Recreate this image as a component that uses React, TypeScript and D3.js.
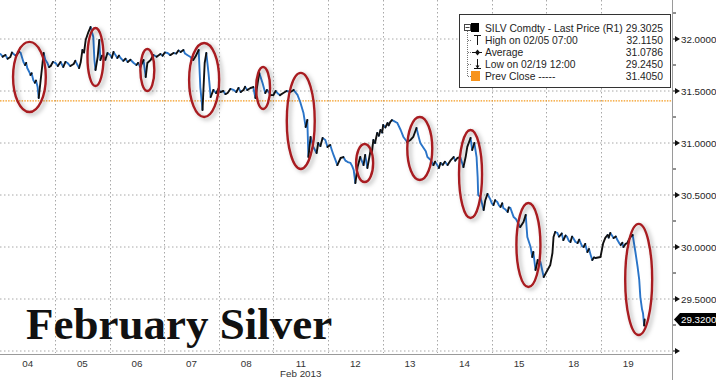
import React from 'react';
import * as d3 from 'd3';

const W = 716;
const H = 380;

const dayLabels = ["04", "05", "06", "07", "08", "11", "12", "13", "14", "15", "18", "19"];
const monthLabel = "Feb 2013";
const yMajorTicks = [29.0, 29.5, 30.0, 30.5, 31.0, 31.5, 32.0];
const yMinorTicks = [29.25, 29.75, 30.25, 30.75, 31.25, 31.75, 32.25];
const yTickLabels = ["", "29.5000", "30.0000", "30.5000", "31.0000", "31.5000", "32.0000"];

// [time in trading-day slots (0 = start of Feb 04), last price]
const pricePoints: [number, number][] = [
  [0.00, 31.856], [0.04, 31.83], [0.09, 31.846], [0.13, 31.81], [0.18, 31.827], [0.21, 31.87], [0.24, 31.856], [0.28, 31.84],
  [0.31, 31.856], [0.34, 31.88], [0.37, 31.865], [0.42, 31.779], [0.45, 31.75], [0.47, 31.77], [0.49, 31.721], [0.52, 31.69],
  [0.55, 31.654], [0.57, 31.67], [0.60, 31.606], [0.63, 31.58], [0.65, 31.60], [0.68, 31.538], [0.70, 31.433], [0.73, 31.577],
  [0.77, 31.769], [0.79, 31.865], [0.82, 31.80], [0.86, 31.769], [0.89, 31.73], [0.92, 31.740], [0.96, 31.78],
  [1.01, 31.769], [1.05, 31.74], [1.10, 31.779], [1.15, 31.731], [1.19, 31.78], [1.23, 31.769], [1.28, 31.74], [1.34, 31.760],
  [1.37, 31.79], [1.41, 31.750], [1.44, 31.72], [1.47, 31.779], [1.50, 31.894], [1.53, 31.87], [1.56, 31.990], [1.61, 32.067],
  [1.65, 32.115], [1.70, 32.019], [1.72, 31.798], [1.74, 31.702], [1.78, 31.827], [1.81, 31.990], [1.83, 31.798], [1.86, 31.84],
  [1.89, 31.827], [1.92, 31.80], [1.96, 31.865],
  [2.01, 31.846], [2.04, 31.82], [2.07, 31.875], [2.10, 31.85], [2.14, 31.817], [2.17, 31.84], [2.20, 31.817], [2.25, 31.79],
  [2.29, 31.81], [2.33, 31.779], [2.38, 31.80], [2.44, 31.769], [2.49, 31.75], [2.52, 31.77], [2.56, 31.731], [2.62, 31.798],
  [2.66, 31.635], [2.69, 31.769], [2.75, 31.798], [2.80, 31.846], [2.86, 31.83], [2.93, 31.856], [2.97, 31.84],
  [3.01, 31.87], [3.06, 31.865], [3.11, 31.845], [3.17, 31.865], [3.22, 31.86], [3.26, 31.89], [3.30, 31.875], [3.35, 31.894],
  [3.38, 31.86], [3.42, 31.846], [3.48, 31.827], [3.53, 31.798], [3.58, 31.84], [3.63, 31.894], [3.66, 31.538], [3.70, 31.317],
  [3.74, 31.769], [3.77, 31.865], [3.81, 31.673], [3.85, 31.442], [3.90, 31.510], [3.95, 31.48], [3.99, 31.52],
  [4.03, 31.490], [4.08, 31.50], [4.12, 31.47], [4.16, 31.481], [4.21, 31.52], [4.27, 31.510], [4.32, 31.49], [4.36, 31.53],
  [4.40, 31.490], [4.45, 31.51], [4.48, 31.54], [4.52, 31.510], [4.58, 31.529], [4.63, 31.538], [4.67, 31.433], [4.71, 31.577],
  [4.74, 31.673], [4.80, 31.577], [4.85, 31.481], [4.88, 31.51], [4.91, 31.490], [4.95, 31.46],
  [5.00, 31.462], [5.04, 31.50], [5.07, 31.481], [5.12, 31.46], [5.18, 31.481], [5.24, 31.50], [5.31, 31.490], [5.37, 31.510],
  [5.44, 31.462], [5.49, 31.394], [5.55, 31.288], [5.59, 31.154], [5.62, 31.221], [5.64, 30.865], [5.68, 31.058], [5.73, 30.962],
  [5.79, 30.904], [5.82, 31.000], [5.86, 30.97], [5.90, 31.048], [5.95, 31.029], [5.99, 30.962],
  [6.04, 30.981], [6.07, 30.93], [6.10, 30.885], [6.14, 30.83], [6.17, 30.788], [6.23, 30.856], [6.28, 30.865], [6.32, 30.83],
  [6.36, 30.817], [6.41, 30.808], [6.44, 30.78], [6.47, 30.740], [6.50, 30.615], [6.54, 30.769], [6.59, 30.865], [6.65, 30.788],
  [6.68, 30.885], [6.72, 30.760], [6.78, 30.933], [6.80, 30.90], [6.83, 31.029], [6.86, 31.00], [6.90, 31.096], [6.93, 31.07],
  [6.96, 31.125], [6.99, 31.10],
  [7.01, 31.173], [7.05, 31.15], [7.09, 31.192], [7.11, 31.17], [7.14, 31.202], [7.17, 31.22], [7.20, 31.212], [7.27, 31.192],
  [7.33, 31.125], [7.38, 31.058], [7.45, 31.010], [7.51, 31.029], [7.56, 31.058], [7.62, 31.144], [7.66, 31.058], [7.69, 31.000],
  [7.75, 30.952], [7.79, 30.92], [7.82, 30.865], [7.88, 30.837], [7.93, 30.788], [7.96, 30.82],
  [8.00, 30.788], [8.03, 30.76], [8.06, 30.808], [8.10, 30.79], [8.14, 30.82], [8.19, 30.788], [8.24, 30.83], [8.30, 30.865],
  [8.33, 30.83], [8.37, 30.856], [8.42, 30.865], [8.48, 30.769], [8.52, 30.865], [8.55, 30.962], [8.61, 31.048], [8.64, 30.933],
  [8.68, 31.000], [8.72, 30.865], [8.74, 30.673], [8.75, 30.500], [8.79, 30.481], [8.85, 30.356], [8.88, 30.45], [8.92, 30.510],
  [8.97, 30.460],
  [9.00, 30.42], [9.03, 30.404], [9.06, 30.45], [9.10, 30.433], [9.13, 30.40], [9.16, 30.385], [9.19, 30.42], [9.21, 30.375],
  [9.25, 30.36], [9.29, 30.337], [9.31, 30.38], [9.34, 30.375], [9.37, 30.33], [9.40, 30.288], [9.44, 30.27], [9.47, 30.240],
  [9.52, 30.192], [9.58, 30.240], [9.62, 30.308], [9.65, 30.096], [9.71, 30.000], [9.74, 29.904], [9.76, 29.952], [9.80, 29.779],
  [9.84, 29.875], [9.89, 29.856], [9.93, 29.760], [9.95, 29.712],
  [10.02, 29.779], [10.07, 29.827], [10.11, 29.942], [10.13, 30.096], [10.16, 30.144], [10.20, 30.135], [10.23, 30.10],
  [10.26, 30.115], [10.28, 30.13], [10.31, 30.067], [10.35, 30.11], [10.38, 30.096], [10.41, 30.06], [10.44, 30.048],
  [10.47, 30.10], [10.49, 30.087], [10.53, 30.05], [10.57, 30.038], [10.60, 30.07], [10.62, 30.048], [10.65, 30.01],
  [10.68, 30.000], [10.71, 30.03], [10.75, 29.952], [10.78, 29.98], [10.81, 29.923], [10.84, 29.875], [10.87, 29.90],
  [10.90, 29.894], [10.99, 29.904],
  [11.04, 30.038], [11.08, 30.09], [11.12, 30.115], [11.14, 30.09], [11.17, 30.135], [11.20, 30.11], [11.23, 30.087],
  [11.27, 30.10], [11.30, 30.067], [11.33, 30.04], [11.36, 30.019], [11.39, 30.04], [11.41, 30.000], [11.45, 30.03],
  [11.48, 30.038], [11.51, 30.07], [11.54, 30.096], [11.58, 30.115], [11.63, 29.952], [11.67, 29.808], [11.70, 29.683],
  [11.72, 29.519], [11.75, 29.404], [11.77, 29.360], [11.79, 29.245], [11.80, 29.303],
];

const prevClose = 31.405;
const lastPriceLabel = "29.3200";
const lastPrice = 29.3025;

const legendNames = [
  "SILV Comdty - Last Price (R1)",
  "High on 02/05 07:00",
  "Average",
  "Low on 02/19 12:00",
  "Prev Close -----",
];
const legendValues = ["29.3025", "32.1150", "31.0786", "29.2450", "31.4050"];

const titleText = "February Silver";

// highlight ellipses (center time, center price, half-width in days, half-height in price)
const ellipseT = [0.53, 1.74, 2.69, 3.73, 4.81, 5.50, 6.67, 7.68, 8.61, 9.67, 11.69];
const ellipseP = [31.635, 31.827, 31.702, 31.606, 31.529, 31.212, 30.808, 30.947, 30.702, 30.019, 29.688];
const ellipseRT = [0.30, 0.147, 0.128, 0.275, 0.128, 0.256, 0.156, 0.229, 0.211, 0.22, 0.247];
const ellipseRP = [0.337, 0.279, 0.202, 0.356, 0.202, 0.462, 0.183, 0.303, 0.423, 0.404, 0.534];

const AXIS_X = 672;
const AXIS_Y = 354;

export default function App() {
  const x = d3.scaleLinear().domain([0, 12.3]).range([0.5, AXIS_X]);
  const y = d3.scaleLinear().domain([29, 32]).range([351, 39]);

  const blueSegs: string[] = [];
  const blackSegs: string[] = [];
  for (let i = 1; i < pricePoints.length; i++) {
    const [t0, p0] = pricePoints[i - 1];
    const [t1, p1] = pricePoints[i];
    const seg = `M${x(t0).toFixed(2)},${y(p0).toFixed(2)}L${x(t1).toFixed(2)},${y(p1).toFixed(2)}`;
    if (p1 <= p0) blueSegs.push(seg);
    else blackSegs.push(seg);
  }

  const gridColor = '#a8a8a8';
  const font = "'Liberation Sans', Arial, sans-serif";
  const txt = '#1e1e1e';

  const legX = 459, legY = 14, legW = 211, legH = 73;
  const rowY = [28, 40, 52, 64, 76];

  const yLast = y(lastPrice);

  return (
    <div style={{ position: 'fixed', left: 0, top: 0 }}>
      <svg width={W} height={H} style={{ display: 'block', background: '#fff' }}>
        <defs>
          <filter id="sh" x="-60%" y="-30%" width="220%" height="160%">
            <feDropShadow dx="2.5" dy="2" stdDeviation="2" floodColor="#000" floodOpacity="0.32" />
          </filter>
        </defs>
        <rect x={0} y={0} width={W} height={H} fill="#fff" />

        {yMajorTicks.map((v) => (
          <line key={'hg' + v} x1={0} x2={AXIS_X} y1={y(v)} y2={y(v)} stroke={gridColor} strokeWidth={1} strokeDasharray="1.5,2.5" />
        ))}
        {dayLabels.slice(1).map((d, i) => (
          <line key={'vg' + d} x1={Math.round(x(i + 1)) + 0.5} x2={Math.round(x(i + 1)) + 0.5} y1={0} y2={AXIS_Y - 1} stroke={gridColor} strokeWidth={1} strokeDasharray="1.5,2.5" />
        ))}

        <line x1={0} x2={AXIS_X} y1={y(prevClose)} y2={y(prevClose)} stroke="#f39a1e" strokeWidth={1.3} strokeDasharray="1.5,1.2" />

        <text x={26} y={339} fontFamily="'Liberation Serif', 'Times New Roman', serif" fontWeight="bold" fontSize={45} fill="#111">{titleText}</text>

        <path d={blueSegs.join('')} fill="none" stroke="#2a74c8" strokeWidth={1.9} strokeLinecap="round" />
        <path d={blackSegs.join('')} fill="none" stroke="#111" strokeWidth={1.9} strokeLinecap="round" />

        {ellipseT.map((t, i) => (
          <ellipse key={'el' + i}
            cx={x(t)} cy={y(ellipseP[i])}
            rx={x(t + ellipseRT[i]) - x(t)} ry={y(ellipseP[i] - ellipseRP[i]) - y(ellipseP[i])}
            fill="none" stroke="#a81e20" strokeWidth={2.4} filter="url(#sh)" />
        ))}

        <line x1={AXIS_X + 0.5} x2={AXIS_X + 0.5} y1={0} y2={H} stroke="#9a9a9a" strokeWidth={1} />
        <line x1={0} x2={AXIS_X} y1={AXIS_Y + 0.5} y2={AXIS_Y + 0.5} stroke="#9a9a9a" strokeWidth={1} />

        {yMinorTicks.map((v) => (
          <line key={'mt' + v} x1={AXIS_X + 1} x2={AXIS_X + 4} y1={y(v)} y2={y(v)} stroke="#222" strokeWidth={1} />
        ))}
        {yMajorTicks.map((v, i) => (
          <g key={'yt' + v}>
            <path d={`M${AXIS_X + 1},${y(v) - 0.6}L${AXIS_X + 3},${y(v) - 0.6}L${AXIS_X + 3},${y(v) - 3}L${AXIS_X + 8},${y(v)}L${AXIS_X + 3},${y(v) + 3}L${AXIS_X + 3},${y(v) + 0.6}L${AXIS_X + 1},${y(v) + 0.6}Z`} fill="#111" />
            {yTickLabels[i] && (
              <text x={AXIS_X + 9} y={y(v) + 3.5} fontFamily={font} fontSize={9.8} fill={txt}>{yTickLabels[i]}</text>
            )}
          </g>
        ))}

        <path d={`M${AXIS_X + 2},${yLast}L${AXIS_X + 8},${yLast - 6.5}L${W},${yLast - 6.5}L${W},${yLast + 6.5}L${AXIS_X + 8},${yLast + 6.5}Z`} fill="#000" />
        <text x={AXIS_X + 9} y={yLast + 3.5} fontFamily={font} fontSize={9.8} fill="#fff">{lastPriceLabel}</text>

        {dayLabels.map((d, i) => (
          <text key={'xl' + d} x={x(i + 0.5)} y={367} textAnchor="middle" fontFamily={font} fontSize={9.8} fill="#333">{d}</text>
        ))}
        <text x={x(5.5)} y={377} textAnchor="middle" fontFamily={font} fontSize={9.8} fill="#333">{monthLabel}</text>

        <rect x={legX + 0.5} y={legY + 0.5} width={legW} height={legH} fill="#fff" stroke="#333" strokeWidth={1} />
        <line x1={467.5} x2={467.5} y1={31} y2={76} stroke="#777" strokeDasharray="1,1" />
        {rowY.slice(1).map((ry) => (
          <line key={'tr' + ry} x1={468} x2={472} y1={ry + 0.5} y2={ry + 0.5} stroke="#777" strokeDasharray="1,1" />
        ))}
        <rect x={464.5} y={24.5} width={6} height={6} fill="#fff" stroke="#444" />
        <line x1={465.5} x2={469.5} y1={27.5} y2={27.5} stroke="#444" />
        <rect x={471} y={23} width={8} height={9} fill="#000" />
        <line x1={474} x2={481} y1={35.5} y2={35.5} stroke="#111" />
        <line x1={477.5} x2={477.5} y1={35.5} y2={45} stroke="#111" />
        <line x1={472} x2={482} y1={52.5} y2={52.5} stroke="#111" />
        <path d="M477.5,49.5L480,52.5L477.5,55.5L475,52.5Z" fill="#111" />
        <line x1={477.5} x2={477.5} y1={59} y2={68.5} stroke="#111" />
        <line x1={474} x2={481} y1={68.5} y2={68.5} stroke="#111" />
        <path d="M475.5,65.5L477.5,68.5L479.5,65.5Z" fill="#111" />
        <rect x={471} y={71} width={9} height={10} fill="#f7941d" />
        {legendNames.map((n, i) => (
          <g key={'lg' + i}>
            <text x={485} y={rowY[i] + 3.8} fontFamily={font} fontSize={10.3} fill={txt}>{n}</text>
            <text x={663} y={rowY[i] + 3.8} textAnchor="end" fontFamily={font} fontSize={10.3} fill={txt}>{legendValues[i]}</text>
          </g>
        ))}
      </svg>
    </div>
  );
}
